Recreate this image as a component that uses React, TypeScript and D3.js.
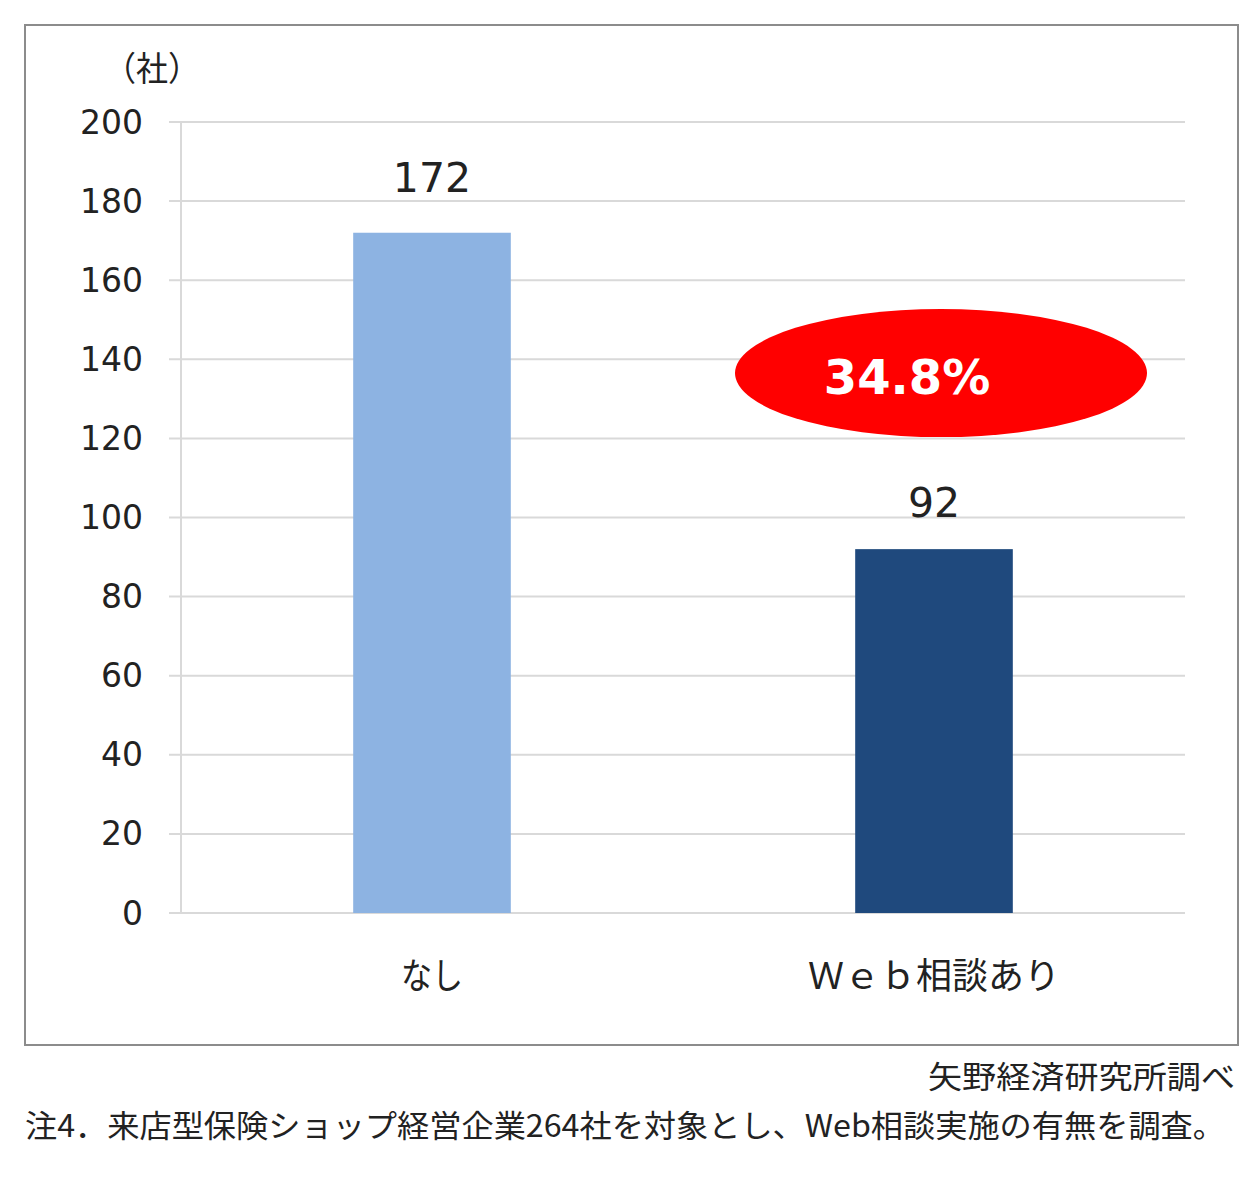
import * as d3 from 'd3';

const categories = ['なし', 'Ｗｅｂ相談あり'];
const values = [172, 92];
const barColors = ['#8DB3E2', '#1F497D'];
const yTicks = [0, 20, 40, 60, 80, 100, 120, 140, 160, 180, 200];
const calloutText = '34.8%';
const calloutValue = 136;
const unitLabel = '（社）';
const sourceText = '矢野経済研究所調べ';
const noteText = '注4．来店型保険ショップ経営企業264社を対象とし、Web相談実施の有無を調査。';

const JP = '"Noto Sans CJK JP", "Noto Sans", sans-serif';
const NUM = '"DejaVu Sans", Verdana, sans-serif';

export default function App() {
  const width = 1259;
  const height = 1200;
  const plot = { left: 181, right: 1185, top: 122, bottom: 913 };

  const x = d3.scaleBand<string>()
    .domain(categories)
    .range([plot.left, plot.right])
    .paddingInner(0.686)
    .paddingOuter(0.343);

  const y = d3.scaleLinear()
    .domain([0, 200])
    .range([plot.bottom, plot.top]);

  const bw = x.bandwidth();
  const webX = (x(categories[1]) ?? 0) + bw / 2;

  return (
    <svg
      width={width}
      height={height}
      style={{ position: 'absolute', left: 0, top: 0, background: '#fff' }}
    >
      {/* outer frame */}
      <rect x={25} y={25} width={1213} height={1020} fill="#fff" stroke="#8c8c8c" strokeWidth={2} />

      {/* unit label */}
      <text x={152} y={66} textAnchor="middle" dominantBaseline="central"
        fontFamily={JP} fontSize={34} fill="#222"
        textLength={96} lengthAdjust="spacingAndGlyphs">{unitLabel}</text>

      {/* grid + ticks */}
      {yTicks.map((t) => (
        <g key={t}>
          <line x1={plot.left - 12} x2={plot.right} y1={y(t)} y2={y(t)}
            stroke="#d9d9d9" strokeWidth={2} />
          <text x={143} y={y(t)} textAnchor="end" dominantBaseline="central"
            fontFamily={NUM} fontSize={33} fill="#222">{t}</text>
        </g>
      ))}
      <line x1={plot.left} x2={plot.left} y1={plot.top} y2={plot.bottom}
        stroke="#d9d9d9" strokeWidth={2} />

      {/* bars */}
      {categories.map((c, i) => (
        <g key={c}>
          <rect x={x(c)} y={y(values[i])} width={bw} height={plot.bottom - y(values[i])}
            fill={barColors[i]} />
          <text x={(x(c) ?? 0) + bw / 2} y={y(values[i]) - (i === 0 ? 41 : 32)}
            textAnchor="middle" fontFamily={NUM} fontSize={41} fill="#222">{values[i]}</text>
          <text x={(x(c) ?? 0) + bw / 2} y={973} textAnchor="middle" dominantBaseline="central"
            fontFamily={JP} fontSize={36} fill="#222"
            textLength={i === 0 ? 62 : 252} lengthAdjust="spacingAndGlyphs">{c}</text>
        </g>
      ))}

      {/* callout */}
      <ellipse cx={webX + 7} cy={y(calloutValue) - 2} rx={206} ry={64} fill="#ff0000" />
      <text x={webX - 27} y={y(calloutValue) + 19} textAnchor="middle"
        fontFamily={NUM} fontWeight="bold" fontSize={48} fill="#fff">{calloutText}</text>

      {/* source + note */}
      <text x={1235} y={1088} textAnchor="end" fontFamily={JP} fontSize={31} fill="#222"
        textLength={307} lengthAdjust="spacingAndGlyphs">{sourceText}</text>
      <text x={25} y={1137} fontFamily={JP} fontSize={31} fill="#222"
        textLength={1200} lengthAdjust="spacingAndGlyphs">{noteText}</text>
    </svg>
  );
}
